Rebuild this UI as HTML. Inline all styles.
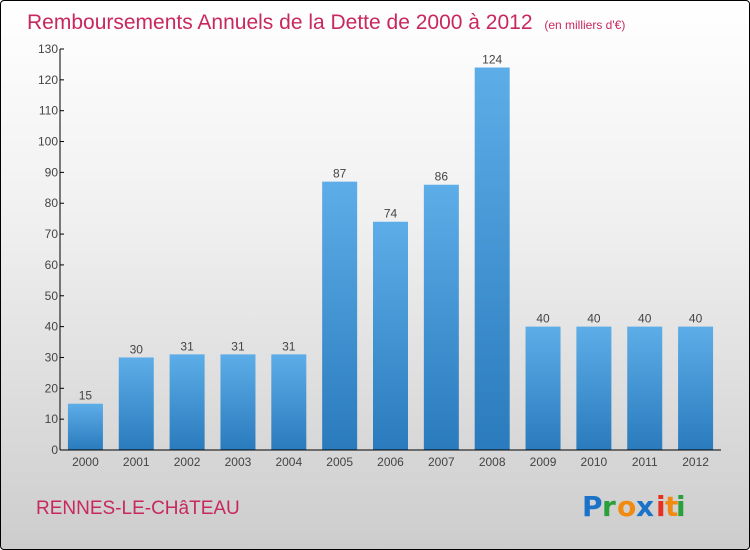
<!DOCTYPE html>
<html><head><meta charset="utf-8"><style>
html,body{margin:0;padding:0}
body{width:750px;height:550px;overflow:hidden;font-family:"Liberation Sans",sans-serif}
#wrap{position:absolute;left:0;top:0;width:748px;height:548px;border:1px solid #000;border-radius:4px;background:linear-gradient(#ffffff 0%,#f0f0f0 40%,#d8d8d8 80%,#cdcdcd 100%)}
</style></head><body>
<div id="wrap">
<svg id="chart" width="750" height="550" style="position:absolute;left:-1px;top:-1px">
<defs><linearGradient id="bg" x1="0" y1="0" x2="0" y2="1"><stop offset="0" stop-color="#5dade8"/><stop offset="1" stop-color="#2a7bbd"/></linearGradient></defs>
<text x="27" y="29" font-size="21" fill="#c8285f">Remboursements Annuels de la Dette de 2000 à 2012 <tspan font-size="12" dx="6">(en milliers d'€)</tspan></text>
<g id="grid"></g><g id="bars"></g><g id="axes"></g>
<text x="36" y="514" font-size="19" fill="#c8285f">RENNES-LE-CHâTEAU</text>
<g font-size="28" font-weight="bold" font-family="'DejaVu Sans',sans-serif">
<text x="582" y="516" fill="#1a73c8">P</text><text x="602" y="516" fill="#2aa03a">r</text><text x="617" y="516" fill="#f08a10">o</text><text x="636" y="516" fill="#1a73c8">x</text><text x="656" y="516" fill="#e83020">i</text><text x="665" y="516" fill="#f08a10">t</text><text x="676" y="516" fill="#2aa03a">i</text>
</g>
</svg></div>
<script>
const categories=["2000","2001","2002","2003","2004","2005","2006","2007","2008","2009","2010","2011","2012"];
const values=[15,30,31,31,31,87,74,86,124,40,40,40,40];
const yTicks=[0,10,20,30,40,50,60,70,80,90,100,110,120,130];
const NS="http://www.w3.org/2000/svg";
const x0=60,x1=721,yb=450,yt=49,ymax=130;
const y=v=>yb-(v/ymax)*(yb-yt);
const bw=(x1-x0)/categories.length;
const xc=i=>x0+bw*(i+0.5);
function mk(t,a,p){const e=document.createElementNS(NS,t);for(const k in a)e.setAttribute(k,a[k]);p.appendChild(e);return e;}
const bars=document.getElementById('bars'),axes=document.getElementById('axes');
values.forEach((v,i)=>{
 const r=mk('rect',{x:xc(i)-17.5,y:y(v),width:35,height:yb-y(v),fill:'url(#bg)'},bars);
 
 
 const t=mk('text',{x:xc(i),y:y(v)-4,'text-anchor':'middle','font-size':12,fill:'#444'},bars);
 t.textContent=v;
 
 
 const c=mk('text',{x:xc(i),y:466,'text-anchor':'middle','font-size':12,fill:'#444'},axes);
 c.textContent=categories[i];
 
 
});
yTicks.forEach(v=>{
 const l=mk('line',{x1:x0,x2:x0+4,y1:y(v),y2:y(v),stroke:'#000'},axes);
 
 
 const t=mk('text',{x:x0-2,y:y(v)+4,'text-anchor':'end','font-size':12,fill:'#444'},axes);
 t.textContent=v;
 
 
});
const ya=mk('line',{x1:x0,x2:x0,y1:yt,y2:yb,stroke:'#000'},axes);


const xa=mk('line',{x1:x0,x2:x1,y1:yb,y2:yb,stroke:'#000'},axes);


</script>
</body></html>
